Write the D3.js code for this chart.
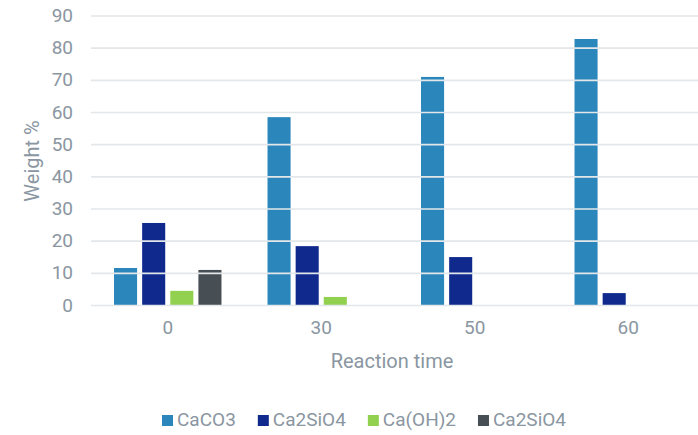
<!DOCTYPE html>
<html>
<head>
<meta charset="utf-8">
<script src="https://cdn.jsdelivr.net/npm/d3@7"></script>
<style>
  html, body { margin: 0; padding: 0; background: #fff; }
  svg { display: block; font-family: Roboto, "Noto Sans", sans-serif; }
</style>
</head>
<body>
<svg id="chart" width="698" height="435"></svg>
<script>
// Reaction time groups (x axis)
const categories = ["0", "30", "50", "60"];
// Series names as shown in the legend
const seriesNames = ["CaCO3", "Ca2SiO4", "Ca(OH)2", "Ca2SiO4"];
// Weight % per series, one value per reaction time
const caco3     = [11.5, 58.4, 70.9, 82.7];
const ca2sio4   = [25.5, 18.3, 14.9, 3.7];
const caoh2     = [4.4, 2.5, 0, 0];
const ca2sio4b  = [10.9, 0, 0, 0];
const yTicks    = [0, 10, 20, 30, 40, 50, 60, 70, 80, 90];
const colors    = ["#2b86bc", "#0f2a8c", "#92d050", "#474f55"];

const seriesValues = [caco3, ca2sio4, caoh2, ca2sio4b];

const svg = d3.select("#chart");
const textColor = "#8a96a1";
const gridColor = "#e3e7ea";

const x0 = d3.scaleBand().domain(categories).range([91, 705])
  .paddingInner(0.3).paddingOuter(0.15);
const x1 = d3.scaleBand().domain(d3.range(seriesNames.length))
  .range([0, x0.bandwidth()]).paddingInner(0.18);
const y = d3.scaleLinear().domain([0, 90]).range([305, 15.5]);

// bars
const groups = svg.append("g").selectAll("g")
  .data(categories).join("g")
  .attr("transform", c => `translate(${x0(c)},0)`);

groups.selectAll("rect")
  .data((c, ci) => seriesValues.map((vals, si) => ({ si, v: vals[ci] })))
  .join("rect")
  .filter(d => d.v > 0)
  .attr("x", d => x1(d.si))
  .attr("width", x1.bandwidth())
  .attr("y", d => y(d.v))
  .attr("height", d => y(0) - y(d.v))
  .attr("fill", d => colors[d.si]);

// gridlines drawn over the bars
const yAxis = d3.axisLeft(y).tickValues(yTicks).tickSize(-(705 - 91)).tickPadding(18);
const gy = svg.append("g").attr("transform", "translate(91,0)").call(yAxis);
gy.select(".domain").remove();
gy.selectAll(".tick line").attr("stroke", gridColor).attr("stroke-width", 1.6);
gy.selectAll(".tick text").attr("fill", textColor).attr("font-size", 19)
  .attr("font-family", "Roboto, sans-serif");

// x axis labels
const xAxis = d3.axisBottom(x0).tickSize(0).tickPadding(16);
const gx = svg.append("g").attr("transform", "translate(0,305)").call(xAxis);
gx.select(".domain").remove();
gx.selectAll(".tick text").attr("fill", textColor).attr("font-size", 19)
  .attr("font-family", "Roboto, sans-serif");

// axis titles
svg.append("text")
  .attr("x", 392).attr("y", 368)
  .attr("text-anchor", "middle")
  .attr("fill", textColor).attr("font-size", 20)
  .text("Reaction time");

svg.append("text")
  .attr("transform", "translate(39,161) rotate(-90)")
  .attr("text-anchor", "middle")
  .attr("fill", textColor).attr("font-size", 20)
  .text("Weight %");

// legend
const legend = svg.append("g");
const items = legend.selectAll("g").data(seriesNames).join("g");
items.append("rect").attr("width", 11).attr("height", 11).attr("y", -11)
  .attr("fill", (d, i) => colors[i]);
items.append("text").attr("x", 15).attr("y", 0)
  .attr("fill", textColor).attr("font-size", 19)
  .text(d => d);
let cursor = 0;
const offsets = [];
items.each(function () {
  offsets.push(cursor);
  const w = d3.select(this).select("text").node().getComputedTextLength();
  cursor += 15 + w + 22;
});
const total = cursor - 22;
const startX = 364 - total / 2;
items.attr("transform", (d, i) => `translate(${startX + offsets[i]},426)`);
</script>
</body>
</html>
